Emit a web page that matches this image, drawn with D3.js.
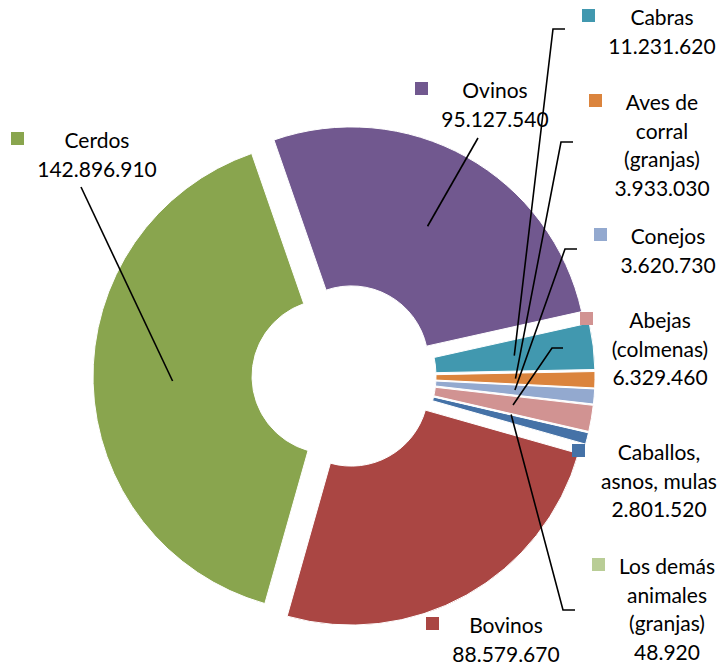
<!DOCTYPE html>
<html>
<head>
<meta charset="utf-8">
<script src="https://cdn.jsdelivr.net/npm/d3@7"></script>
<style>
  html, body { margin: 0; padding: 0; background: #fff; }
  svg { display: block; }
  text { font-family: Lato, "Open Sans", sans-serif; fill: #000; }
</style>
</head>
<body>
<svg id="chart" width="726" height="671"></svg>
<script>
// ---- data (Excel series order) ----
const categories = ["Caballos, asnos, mulas", "Bovinos", "Cerdos", "Ovinos", "Cabras",
  "Aves de corral (granjas)", "Conejos", "Abejas (colmenas)", "Los demás animales (granjas)"];
const values = [2801520, 88579670, 142896910, 95127540, 11231620, 3933030, 3620730, 6329460, 48920];
const colors = ["#4572A7", "#AA4643", "#89A54E", "#71588F", "#4198AF", "#DB843D", "#93A9CF", "#D19392", "#B9CD96"];
const labelLines = [
  ["Caballos,", "asnos, mulas"], ["Bovinos"], ["Cerdos"], ["Ovinos"], ["Cabras"],
  ["Aves de", "corral", "(granjas)"], ["Conejos"], ["Abejas", "(colmenas)"], ["Los demás", "animales", "(granjas)"]
];

// ---- layout ----
const cx = 344, cy = 376, innerR = 77, outerR = 236, explode = 15;
const firstAngle = 103; // degrees, clockwise from top
const fontSize = 21, lineH = 28.7, sq = 13;
// label block: center x, first baseline, legend square x
const labelPos = [
  {x: 659, y: 460, sx: 572},
  {x: 506, y: 633, sx: 426},
  {x: 97, y: 148, sx: 11},
  {x: 495, y: 98, sx: 415},
  {x: 662, y: 25, sx: 582},
  {x: 662, y: 110, sx: 589},
  {x: 668, y: 244, sx: 594},
  {x: 660, y: 328, sx: 580},
  {x: 667, y: 574, sx: 592}
];
// leader line start points (label side), null = none
const leaders = [
  null,
  null,
  [[81, 187]],
  [[478, 138]],
  [[565, 29], [553, 29]],
  [[573, 142], [561, 142]],
  [[577, 249], [565, 249]],
  [[563, 348], [552, 348]],
  [[575, 610], [563, 610]]
];

const locale = d3.formatLocale({decimal: ",", thousands: ".", grouping: [3], currency: ["", ""]});
const fmt = locale.format(",d");

const svg = d3.select("#chart");
const toRad = d => d * Math.PI / 180;

const pie = d3.pie().sort(null).value(d => d)
  .startAngle(toRad(firstAngle)).endAngle(toRad(firstAngle + 360));
const arcs = pie(values);
const arc = d3.arc().innerRadius(innerR).outerRadius(outerR);

function offset(a) {
  const m = (a.startAngle + a.endAngle) / 2;
  return [Math.sin(m) * explode, -Math.cos(m) * explode];
}

const g = svg.append("g").attr("transform", `translate(${cx},${cy})`);
g.selectAll("path.slice").data(arcs).join("path")
  .attr("class", "slice")
  .attr("d", arc)
  .attr("fill", (d, i) => colors[i])
  .attr("stroke", "#fff")
  .attr("stroke-width", 1)
  .attr("transform", d => { const o = offset(d); return `translate(${o[0]},${o[1]})`; });

// leader lines
const line = d3.line();
arcs.forEach((d, i) => {
  if (!leaders[i]) return;
  const o = offset(d);
  const c = arc.centroid(d);
  const end = [cx + o[0] + c[0], cy + o[1] + c[1]];
  svg.append("path")
    .attr("d", line(leaders[i].concat([end])))
    .attr("fill", "none")
    .attr("stroke", "#000")
    .attr("stroke-width", 1.6);
});

// labels
arcs.forEach((d, i) => {
  const p = labelPos[i];
  const lines = labelLines[i].concat([fmt(values[i])]);
  svg.append("rect")
    .attr("x", p.sx).attr("y", p.y - 16)
    .attr("width", sq).attr("height", sq)
    .attr("fill", colors[i]);
  const t = svg.append("text")
    .attr("text-anchor", "middle")
    .attr("font-size", fontSize);
  lines.forEach((s, k) => {
    t.append("tspan").attr("x", p.x).attr("y", p.y + k * lineH).text(s);
  });
});
</script>
</body>
</html>
